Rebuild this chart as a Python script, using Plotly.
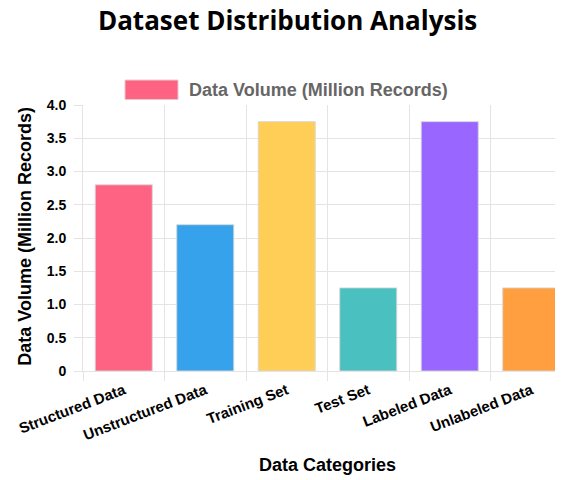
import plotly.graph_objects as go

categories = ["Structured Data", "Unstructured Data", "Training Set", "Test Set", "Labeled Data", "Unlabeled Data"]
values = [2.8, 2.2, 3.75, 1.25, 3.75, 1.25]
colors = ["#FF6384", "#36A2EB", "#FFCE56", "#4BC0C0", "#9966FF", "#FF9F40"]
y_tickvals = [0, 0.5, 1.0, 1.5, 2.0, 2.5, 3.0, 3.5, 4.0]
y_ticktext = ["0", "0.5", "1.0", "1.5", "2.0", "2.5", "3.0", "3.5", "4.0"]
series_name = "Data Volume (Million Records)"
title_text = "Dataset Distribution Analysis"
x_title = "Data Categories"
y_title = "Data Volume (Million Records)"

OFF = 8  # page body margin
W, H = 563 - OFF, 480 - OFF
L, T = 83 - OFF, 105 - OFF
PW = W - L
PB = 371.5 - OFF
PH = PB - T
GRID = "#e4e4e4"
FONT = "Liberation Sans, Arial, Helvetica, sans-serif"


def px_x(px):
    return (px - OFF - L) / PW


def px_y(py):
    return (PB - (py - OFF)) / PH


fig = go.Figure()
fig.add_trace(go.Bar(
    x=categories, y=values, name=series_name,
    marker=dict(color=colors, line=dict(color="rgba(215,215,215,0.9)", width=1)),
    width=0.7, showlegend=False,
))

fig.update_layout(
    width=W, height=H,
    margin=dict(l=L, r=0, t=T, b=H - PB),
    paper_bgcolor="white", plot_bgcolor="white",
    title=dict(text="<b>" + title_text + "</b>", x=(287.6 - OFF) / W, xanchor="center", xref="container",
               y=1 - (21 - OFF) / H, yanchor="middle", yref="container",
               font=dict(family="Open Sans, sans-serif", size=26, color="#000")),
    xaxis=dict(
        range=[-0.5, -0.5 + PW / 81.5], tickson="boundaries", showgrid=True, gridcolor=GRID,
        ticks="outside", ticklen=9, tickcolor=GRID, tickangle=-21,
        showline=True, linecolor=GRID, linewidth=1, zeroline=False,
        tickfont=dict(family=FONT, size=15, color="#000", weight="bold"),
        ticklabelstandoff=4,
    ),
    yaxis=dict(
        range=[0, 4], tickvals=y_tickvals, ticktext=y_ticktext, showgrid=True, gridcolor=GRID,
        ticks="outside", ticklen=8, tickcolor=GRID,
        showline=True, linecolor=GRID, linewidth=1, zeroline=False,
        tickfont=dict(family=FONT, size=14, color="#000", weight="bold"),
        ticklabelstandoff=5,
    ),
    shapes=[dict(type="rect", xref="paper", yref="paper",
                 x0=px_x(125), x1=px_x(178), y0=px_y(99.5), y1=px_y(80),
                 fillcolor=colors[0], line=dict(color="rgba(230,200,205,1)", width=1))],
    annotations=[
        dict(text="<b>" + series_name + "</b>", xref="paper", yref="paper",
             x=px_x(187), y=px_y(89.5), xanchor="left", yanchor="middle", showarrow=False,
             font=dict(family=FONT, size=18, color="#666")),
        dict(text="<b>" + x_title + "</b>", xref="paper", yref="paper",
             x=px_x(327), y=px_y(466), xanchor="center", yanchor="middle", showarrow=False,
             font=dict(family=FONT, size=18, color="#000")),
        dict(text="<b>" + y_title + "</b>", xref="paper", yref="paper",
             x=px_x(25), y=px_y(237), xanchor="center", yanchor="middle", showarrow=False,
             textangle=-90, font=dict(family=FONT, size=18, color="#000")),
    ],
)

fig.write_html("out.html")
